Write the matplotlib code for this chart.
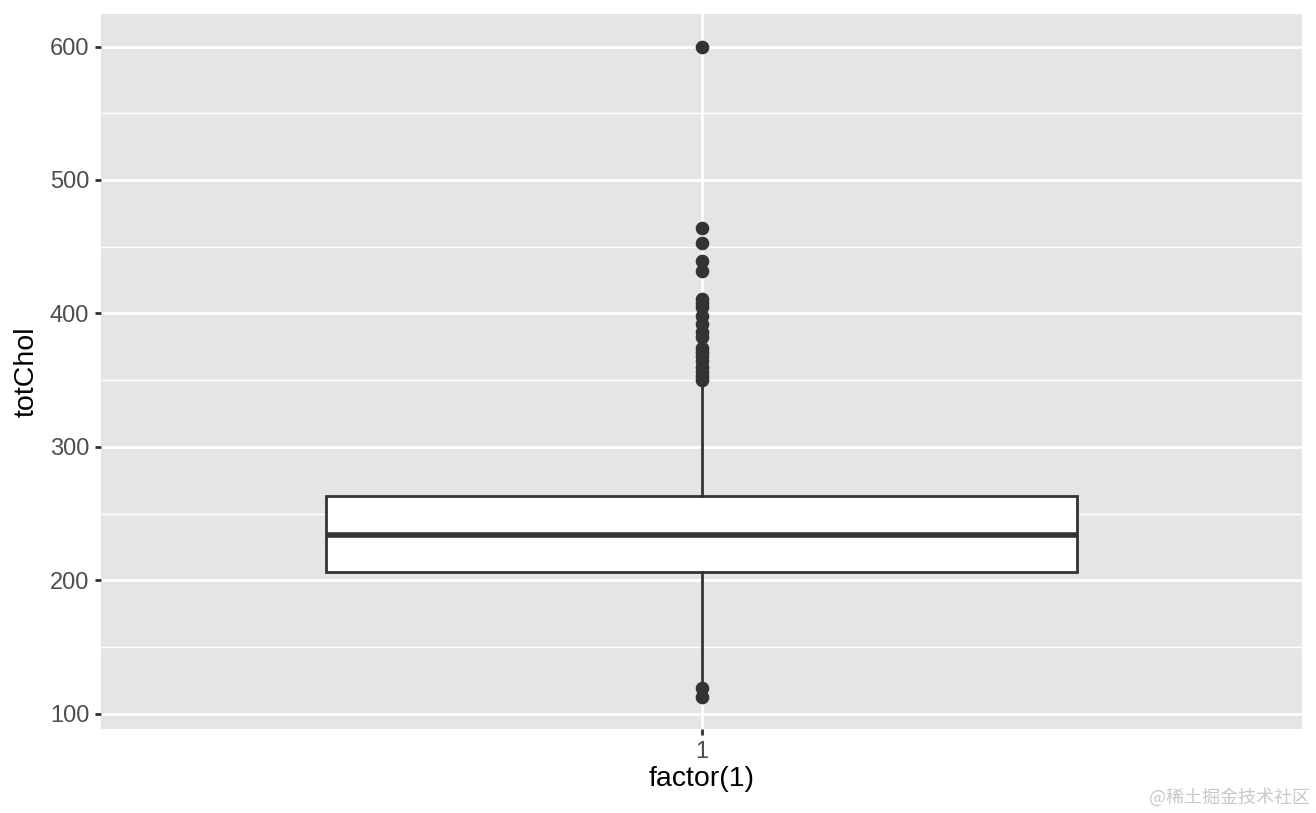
import matplotlib
matplotlib.use("Agg")
import matplotlib.pyplot as plt
from matplotlib.ticker import MultipleLocator

# data
category = ["1"]
q1 = 206.0
median = 234.0
q3 = 263.0
whisker_low = 124.0
whisker_high = 348.0
outliers_low = [113, 119]
outliers_high = [350, 353, 356, 360, 364, 368, 371, 374, 382, 386, 392, 398,
                 405, 408, 411, 432, 439, 453, 464, 600]
y_ticks = [100, 200, 300, 400, 500, 600]

plt.rcParams['font.family'] = ['Liberation Sans', 'DejaVu Sans']

fig = plt.figure(figsize=(13.16, 8.13), dpi=100)
ax = fig.add_axes([101/1316, 1 - 729/813, (1302 - 101)/1316, (729 - 14)/813])
ax.set_facecolor('#E5E5E5')

stats = [dict(med=median, q1=q1, q3=q3, whislo=whisker_low, whishi=whisker_high,
              fliers=outliers_low + outliers_high, label=category[0])]
ax.bxp(stats, positions=[1], widths=0.75, patch_artist=True, showcaps=False,
       boxprops=dict(facecolor='white', edgecolor='#333333', linewidth=2.0),
       medianprops=dict(color='#333333', linewidth=4.0),
       whiskerprops=dict(color='#333333', linewidth=2.0),
       flierprops=dict(marker='o', markersize=8.8, markerfacecolor='#333333',
                       markeredgecolor='#333333'),
       zorder=3)

data_min = min(outliers_low + [whisker_low])
data_max = max(outliers_high + [whisker_high])
span = data_max - data_min
ax.set_ylim(data_min - 0.05 * span, data_max + 0.05 * span)
ax.set_xlim(0.4, 1.6)

ax.set_yticks(y_ticks)
ax.yaxis.set_minor_locator(MultipleLocator(50))
ax.set_xticks([1])
ax.set_xticklabels(category)
ax.grid(which='major', color='white', linewidth=2.0, zorder=0)
ax.grid(which='minor', axis='y', color='white', linewidth=1.0, zorder=0)
ax.set_axisbelow(True)
for s in ax.spines.values():
    s.set_visible(False)
ax.tick_params(axis='both', which='major', length=4.5, width=2.0, color='#333333',
               labelsize=17, labelcolor='#4D4D4D', pad=4)
ax.tick_params(axis='y', which='minor', length=0)

ax.set_xlabel('factor(1)', fontsize=20.5, color='black', labelpad=2)
ax.set_ylabel('totChol', fontsize=20.5, color='black', labelpad=7)

fig.text(1310/1316, 1 - 797/813, '@稀土掘金技术社区', ha='right', va='center',
         fontsize=13, color='#C8C8C8',
         family=['Noto Sans CJK SC', 'DejaVu Sans'])

fig.savefig('out.png', dpi=100, facecolor='white')
